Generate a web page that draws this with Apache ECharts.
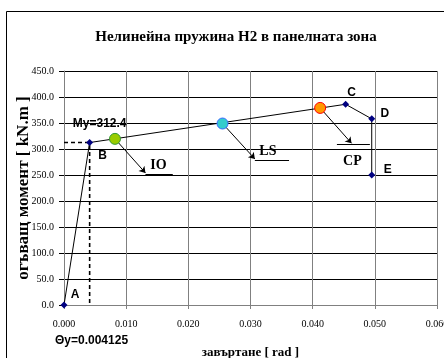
<!DOCTYPE html>
<html><head><meta charset="utf-8">
<script src="https://cdn.jsdelivr.net/npm/echarts@6/dist/echarts.min.js"></script>
<style>html,body{margin:0;padding:0;background:#fff}#c{width:444px;height:358px}</style>
</head><body><div id="c"></div>
<script>
// Data
const title = 'Нелинейна пружина H2 в панелната зона';
const xName = 'завъртане [ rad ]';
const yName = 'огъващ момент [ kN.m ]';
const xTicks = [0, 0.01, 0.02, 0.03, 0.04, 0.05, 0.06];
const yTicks = [0, 50, 100, 150, 200, 250, 300, 350, 400, 450];
const curveNames = ['A', 'B', 'C', 'D', 'E'];
const curveX = [0, 0.004125, 0.0453, 0.0495, 0.0495];
const curveY = [0, 312.4, 386, 358, 250];
const perfNames = ['IO', 'LS', 'CP'];
const perfX = [0.0082, 0.0255, 0.0412];
const perfY = [319.5, 349, 379];
const yieldRot = 0.004125;
const yieldMom = 312.4;
// annotation anchors (data units)
const arrowTipX = [0.0131, 0.0307, 0.04625];
const arrowTipY = [254, 281, 311];
const underlineX0 = [0.0131, 0.0307, 0.0439];
const underlineX1 = [0.0175, 0.0362, 0.0492];
const perfLabelX = [0.0152, 0.0328, 0.0464];
const perfLabelY = [269, 296, 277];

const chart = echarts.init(document.getElementById('c'));
const serif = 'Liberation Serif';
const sans = 'Liberation Sans';
const perfColors = [
  {fill: '#99CC00', border: '#339933'},
  {fill: '#33CCCC', border: '#3366FF'},
  {fill: '#FF9900', border: '#FF0000'}
];
const letterOffsets = {A: [11, -10], B: [13, 13], C: [6, -12], D: [13, -5], E: [16, -5]};

const curveData = curveNames.map((n, i) => ({
  value: [curveX[i], curveY[i]], name: n,
  label: {show: true, formatter: n, position: 'inside', offset: letterOffsets[n],
    fontFamily: sans, fontWeight: 'bold', fontSize: 12, color: '#000'}
}));

const arrows = perfNames.map((n, i) => ({coords: [[perfX[i], perfY[i]], [arrowTipX[i], arrowTipY[i]]]}));
const underlines = perfNames.map((n, i) => ({coords: [[underlineX0[i], arrowTipY[i] - 2], [underlineX1[i], arrowTipY[i] - 2]]}));

chart.setOption({
  animation: false,
  title: {text: title, left: 231, top: 25, textAlign: 'center',
    textStyle: {fontFamily: serif, fontWeight: 'bold', fontSize: 15, color: '#000'}},
  grid: {left: 64, right: 7, top: 71, bottom: 53, containLabel: false, outerBoundsMode: 'none'},
  xAxis: {type: 'value', min: 0, max: 0.06, interval: 0.01,
    name: xName, nameLocation: 'middle', nameGap: 41, nameMoveOverlap: false,
    nameTextStyle: {fontFamily: serif, fontWeight: 'bold', fontSize: 13, color: '#000'},
    axisLine: {lineStyle: {color: '#808080'}},
    axisTick: {show: true, length: 4, lineStyle: {color: '#808080'}},
    axisLabel: {formatter: v => v.toFixed(3), fontFamily: serif, fontSize: 10, color: '#000', margin: 14},
    splitLine: {show: true, lineStyle: {color: '#808080', width: 1}}
  },
  yAxis: {type: 'value', min: 0, max: 450, interval: 50,
    name: yName, nameLocation: 'middle', nameGap: 32, nameMoveOverlap: false,
    nameTextStyle: {fontFamily: serif, fontWeight: 'bold', fontSize: 17, color: '#000'},
    axisLine: {show: true, lineStyle: {color: '#808080'}},
    axisTick: {show: true, length: 5, lineStyle: {color: '#000'}},
    axisLabel: {formatter: v => v.toFixed(1), fontFamily: serif, fontSize: 10, color: '#000', margin: 10},
    splitLine: {show: true, lineStyle: {color: '#000', width: 1}}
  },
  graphic: [
    {type: 'rect', shape: {x: 6.5, y: 11.5, width: 460, height: 400}, style: {fill: 'none', stroke: '#000', lineWidth: 1}, z: 100},
    {type: 'text', left: 55, top: 335, z: 100, style: {text: 'Θy=0.004125', fontFamily: sans, fontWeight: 'bold', fontSize: 12, fill: '#000'}}
  ],
  series: [
    {type: 'line', data: [[0, yieldMom], [yieldRot, yieldMom], [yieldRot, 0]], symbol: 'none',
      lineStyle: {color: '#000', width: 1.6, type: [4, 3]}, z: 3, silent: true},
    {type: 'line', data: curveData, symbol: 'diamond', symbolSize: 7,
      itemStyle: {color: '#000080'}, lineStyle: {color: '#000', width: 1}, z: 4,
      markPoint: {symbol: 'circle', symbolSize: 0, silent: true,
        data: [{coord: [yieldRot, yieldMom], label: {show: true, formatter: 'My=312.4', offset: [10, -19],
          fontFamily: sans, fontWeight: 'bold', fontSize: 12, color: '#000'}}]}
    },
    {type: 'lines', coordinateSystem: 'cartesian2d', data: arrows, symbol: ['none', 'arrow'], symbolSize: 6,
      lineStyle: {color: '#000', width: 1, opacity: 1}, z: 5, silent: true},
    {type: 'lines', coordinateSystem: 'cartesian2d', data: underlines, symbol: 'none',
      lineStyle: {color: '#000', width: 1, opacity: 1}, z: 5, silent: true},
    {type: 'scatter', symbolSize: 11, z: 6,
      data: perfNames.map((n, i) => ({value: [perfX[i], perfY[i]], name: n,
        itemStyle: {color: perfColors[i].fill, borderColor: perfColors[i].border, borderWidth: 1, opacity: 1}}))},
    {type: 'scatter', symbolSize: 0, z: 7, silent: true, itemStyle: {opacity: 1},
      data: perfNames.map((n, i) => ({value: [perfLabelX[i], perfLabelY[i]], name: n})),
      label: {show: true, position: 'inside', formatter: p => p.name, fontFamily: serif, fontWeight: 'bold', fontSize: 14, color: '#000', opacity: 1}}
  ]
});
</script></body></html>
